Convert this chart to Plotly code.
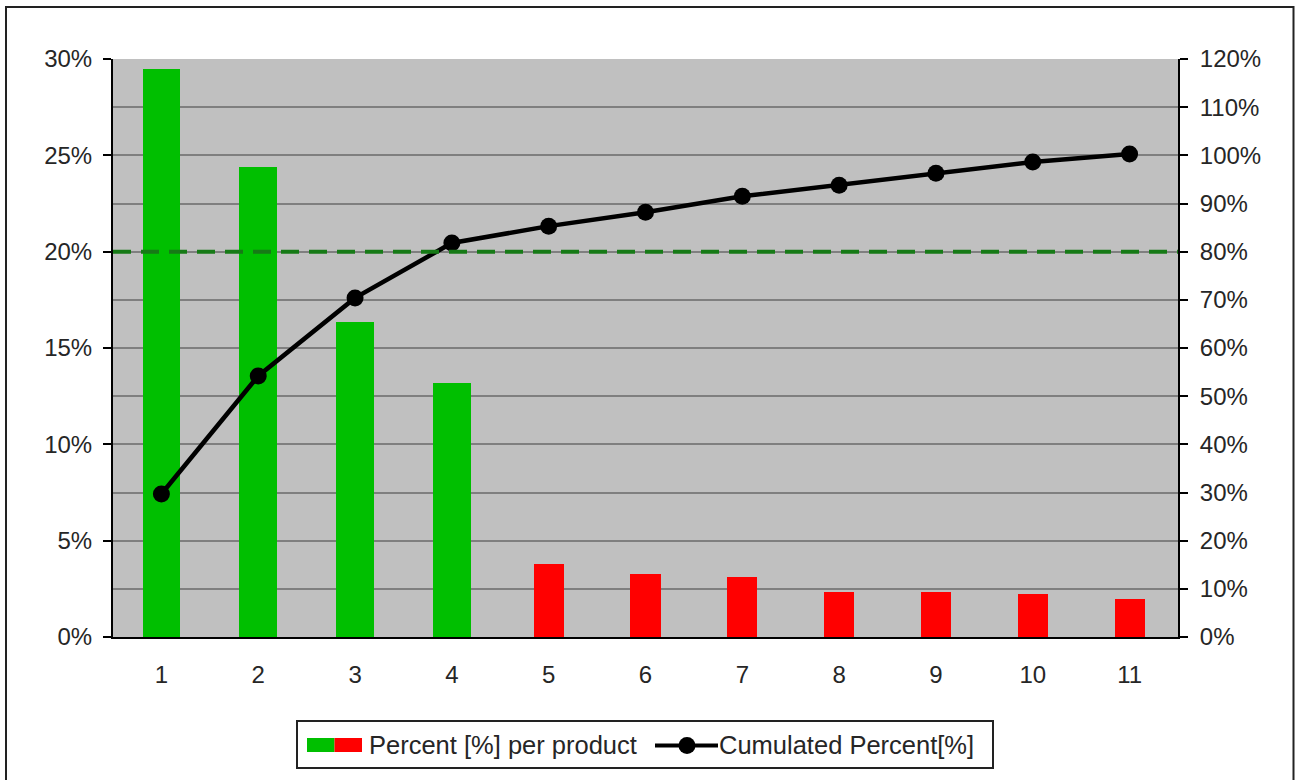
import plotly.graph_objects as go

# ---- data ----
products = [1, 2, 3, 4, 5, 6, 7, 8, 9, 10, 11]
percent_per_product = [29.5, 24.4, 16.35, 13.2, 3.8, 3.27, 3.13, 2.32, 2.32, 2.22, 1.99]
cumulated_percent = [29.7, 54.2, 70.4, 81.8, 85.3, 88.2, 91.5, 93.8, 96.3, 98.6, 100.3]
threshold_cum = 80
left_ticks = [0, 5, 10, 15, 20, 25, 30]
right_ticks = [0, 10, 20, 30, 40, 50, 60, 70, 80, 90, 100, 110, 120]
vital_count = 4  # first N products are green

GREEN = "#00bf00"
RED = "#ff0000"
FONT = "Arial, Liberation Sans, sans-serif"
TXT = "#262626"

W, H = 1295, 780
L, R, T, B = 113, 1178, 59, 637  # plot area in pixels


def px(x):
    return (x - L) / (R - L)


def py(y):
    return (B - y) / (B - T)


colors = [GREEN if i < vital_count else RED for i in range(len(products))]
widths = [0.39 if i < vital_count else 0.31 for i in range(len(products))]

fig = go.Figure()
fig.add_trace(go.Bar(
    x=products, y=percent_per_product, marker=dict(color=colors, line=dict(width=0)),
    width=widths, name="Percent [%] per product", showlegend=False, yaxis="y",
))
fig.add_trace(go.Scatter(
    x=products, y=cumulated_percent, yaxis="y2", mode="lines+markers",
    line=dict(color="black", width=4.5), marker=dict(color="black", size=17),
    name="Cumulated Percent[%]", showlegend=False,
))

shapes = []
# threshold dashed line
shapes.append(dict(type="line", xref="paper", yref="y2", x0=0, x1=1,
                   y0=threshold_cum, y1=threshold_cum,
                   line=dict(color="#167a16", width=4, dash="18px,10px"), layer="above"))
# outer border (bottom edge falls off the canvas, as in the reference)
shapes.append(dict(type="rect", xref="paper", yref="paper", x0=px(6), x1=px(1293.5),
                   y0=py(7), y1=py(784), line=dict(color="#222", width=2), layer="below"))
# legend box
shapes.append(dict(type="rect", xref="paper", yref="paper", x0=px(297), x1=px(993),
                   y0=py(721), y1=py(768), line=dict(color="#222", width=2),
                   fillcolor="white", layer="above"))
# legend swatches
shapes.append(dict(type="rect", xref="paper", yref="paper", x0=px(307), x1=px(334.5),
                   y0=py(738), y1=py(752), line=dict(width=0), fillcolor=GREEN, layer="above"))
shapes.append(dict(type="rect", xref="paper", yref="paper", x0=px(334.5), x1=px(362),
                   y0=py(738), y1=py(752), line=dict(width=0), fillcolor=RED, layer="above"))
# legend line symbol
shapes.append(dict(type="line", xref="paper", yref="paper", x0=px(655), x1=px(718),
                   y0=py(745.5), y1=py(745.5), line=dict(color="black", width=4), layer="above"))
shapes.append(dict(type="circle", xref="paper", yref="paper", x0=px(678.5), x1=px(695.5),
                   y0=py(737), y1=py(754), line=dict(width=0), fillcolor="black", layer="above"))

annotations = [
    dict(text="Percent [%] per product", xref="paper", yref="paper", x=px(367), y=py(745),
         xanchor="left", yanchor="middle", showarrow=False, font=dict(family=FONT, size=25.5, color=TXT)),
    dict(text="Cumulated Percent[%]", xref="paper", yref="paper", x=px(717), y=py(745),
         xanchor="left", yanchor="middle", showarrow=False, font=dict(family=FONT, size=25.5, color=TXT)),
]

fig.update_layout(
    width=W, height=H,
    margin=dict(l=L, r=W - R, t=T, b=H - B, pad=0),
    paper_bgcolor="white", plot_bgcolor="#c0c0c0",
    font=dict(family=FONT, size=24, color=TXT),
    showlegend=False,
    bargap=0,
    shapes=shapes, annotations=annotations,
    xaxis=dict(range=[0.5, 11.5], tickmode="array", tickvals=products,
               ticktext=[str(p) for p in products], showgrid=False, zeroline=False,
               showline=True, linecolor="black", linewidth=2, ticks="",
               ticklabelstandoff=15, tickfont=dict(size=24)),
    yaxis=dict(range=[0, 30], tickmode="array", tickvals=left_ticks,
               ticktext=[f"{v}%" for v in left_ticks], showgrid=False, zeroline=False,
               showline=True, linecolor="black", linewidth=2, ticks="outside",
               ticklen=8, tickwidth=2, tickcolor="black", ticklabelstandoff=6),
    yaxis2=dict(range=[0, 120], tickmode="array", tickvals=right_ticks,
                ticktext=[f"{v}%" for v in right_ticks], overlaying="y", side="right",
                showgrid=True, gridcolor="#7f7f7f", gridwidth=1.5, zeroline=False,
                showline=True, linecolor="black", linewidth=2, ticks="outside",
                ticklen=8, tickwidth=2, tickcolor="black", ticklabelstandoff=7),
)

fig.write_html("out.html", config={"displayModeBar": False},
               post_script="document.body.style.margin='0px';")
